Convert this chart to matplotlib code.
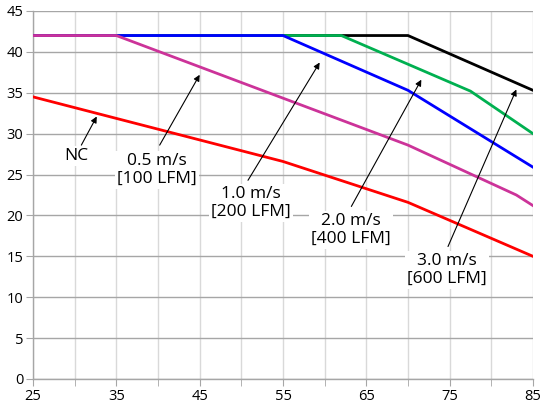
import matplotlib
matplotlib.use("Agg")
import matplotlib.pyplot as plt

plt.rcParams['font.family'] = ['Open Sans', 'DejaVu Sans']

# curves (x = temperature, y = value)
x_nc = [25, 55, 70, 85]
y_nc = [34.5, 26.6, 21.6, 15.0]

x_05 = [25, 35, 70, 83, 85]
y_05 = [42, 42, 28.6, 22.5, 21.2]

x_10 = [25, 55, 70, 85]
y_10 = [42, 42, 35.3, 25.9]

x_20 = [25, 62, 77.5, 85]
y_20 = [42, 42, 35.2, 30.0]

x_30 = [25, 70, 85]
y_30 = [42, 42, 35.3]

labels = ["NC", "0.5 m/s\n[100 LFM]", "1.0 m/s\n[200 LFM]",
          "2.0 m/s\n[400 LFM]", "3.0 m/s\n[600 LFM]"]
label_xy = [(30.2, 27.3), (39.9, 25.6), (51.2, 21.5), (63.2, 18.2), (74.7, 13.3)]
arrow_tail = [(30.8, 28.6), (40.2, 28.6), (50.8, 24.3), (63.2, 21.1), (74.8, 16.2)]
arrow_head = [(32.65, 32.1), (45.0, 37.2), (59.4, 38.7), (71.6, 36.6), (83.0, 35.4)]

fig = plt.figure(figsize=(5.46, 4.12), dpi=100)
ax = fig.add_axes([33 / 546, 1 - 379 / 412, 500 / 546, 368 / 412])

lw = 2.0
ax.plot(x_30, y_30, color="black", lw=lw, zorder=3)
ax.plot(x_20, y_20, color="#00b050", lw=lw, zorder=4)
ax.plot(x_10, y_10, color="#0000ff", lw=lw, zorder=5)
ax.plot(x_05, y_05, color="#cc3399", lw=lw, zorder=6)
ax.plot(x_nc, y_nc, color="#ff0000", lw=lw, zorder=6)

for lab, txy, tail, head in zip(labels, label_xy, arrow_tail, arrow_head):
    ax.annotate("", xy=head, xytext=tail,
                arrowprops=dict(arrowstyle="-|>", color="black", lw=0.8,
                                mutation_scale=9, shrinkA=0, shrinkB=0),
                zorder=7)
    ax.text(txy[0], txy[1], lab, ha="center", va="center", fontsize=12.5,
            linespacing=1.15, zorder=8,
            bbox=dict(facecolor="white", edgecolor="none", pad=1.5))

ax.set_xlim(25, 85)
ax.set_ylim(0, 45)
ax.set_xticks(range(25, 86, 10))
ax.set_xticks(range(25, 86, 5), minor=True)
ax.set_yticks(range(0, 46, 5))

ax.grid(axis="x", which="both", color="#d9d9d9", lw=1.0, zorder=0)
ax.grid(axis="y", color="#a6a6a6", lw=1.0, zorder=1)
ax.set_axisbelow(True)

for s in ["top", "right"]:
    ax.spines[s].set_visible(False)
for s in ["left", "bottom"]:
    ax.spines[s].set_color("#a6a6a6")
    ax.spines[s].set_linewidth(1.0)

ax.tick_params(axis="both", which="both", length=5, color="#a6a6a6",
               labelsize=10.5, pad=2)
ax.tick_params(axis="x", which="minor", length=5)

fig.savefig("out.png", dpi=100)
